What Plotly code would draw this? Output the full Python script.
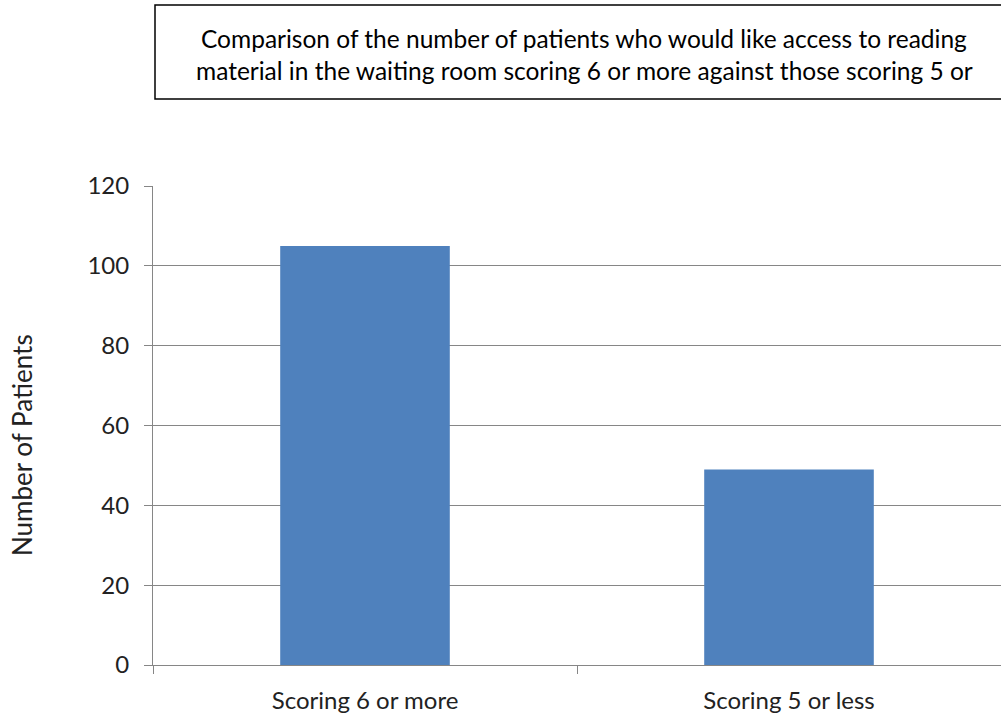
import plotly.graph_objects as go

# Patient survey counts by reading-material score group
categories = ["Scoring 6 or more", "Scoring 5 or less"]
patients = [105, 49]
y_ticks = [0, 20, 40, 60, 80, 100, 120]
y_title = "Number of Patients"

title_lines = [
    "Comparison of the number of patients who would like access to reading",
    "material in the waiting room scoring 6 or more against those scoring 5 or",
]

W, H = 1001, 714
L, R, T, B = 153, 0, 186, 49
plot_w = W - L - R
plot_h = H - T - B

def px_x(x):
    return (x - L) / plot_w

def px_y(y):
    return (H - B - y) / plot_h

font_family = "Lato, Calibri, Carlito, sans-serif"
axis_grey = "#868686"

fig = go.Figure(
    go.Bar(
        x=categories,
        y=patients,
        marker=dict(color="#4F81BD", line=dict(width=0)),
        width=0.4,
        hoverinfo="x+y",
    )
)

fig.update_layout(
    width=W,
    height=H,
    margin=dict(l=L, r=R, t=T, b=B, pad=0),
    paper_bgcolor="white",
    plot_bgcolor="white",
    showlegend=False,
    font=dict(family=font_family, size=24, color="#000000"),
    xaxis=dict(
        range=[-0.5, 1.5],
        showline=True,
        linecolor=axis_grey,
        linewidth=1,
        ticks="outside",
        tickson="boundaries",
        ticklen=8,
        tickcolor=axis_grey,
        showgrid=False,
        tickfont=dict(size=24, color="#222222"),
        ticklabelstandoff=14,
    ),
    yaxis=dict(
        range=[0, 120],
        tickvals=y_ticks,
        showline=True,
        linecolor=axis_grey,
        linewidth=1,
        ticks="outside",
        ticklen=8,
        tickcolor=axis_grey,
        showgrid=True,
        gridcolor=axis_grey,
        gridwidth=1,
        zeroline=False,
        tickfont=dict(size=24, color="#222222"),
        ticklabelstandoff=10,
    ),
)

# Vertical axis caption, sitting slightly below the plot's mid-height
fig.add_annotation(
    xref="paper", yref="paper",
    x=px_x(22), y=px_y(445),
    text=y_title,
    textangle=-90,
    showarrow=False,
    xanchor="center", yanchor="middle",
    font=dict(size=26, color="#222222", family=font_family),
)

# Boxed chart heading above the plot
fig.add_shape(
    type="rect",
    xref="paper", yref="paper",
    x0=px_x(155), x1=px_x(1010),
    y0=px_y(99), y1=px_y(5),
    line=dict(color="#000000", width=1.5),
    fillcolor="white",
    layer="above",
)
for i, line in enumerate(title_lines):
    fig.add_annotation(
        xref="paper", yref="paper",
        x=px_x(584), y=px_y(38 + 33 * i),
        text=line,
        showarrow=False,
        xanchor="center", yanchor="middle",
        font=dict(size=24.5, color="#000000", family=font_family),
    )

fig.write_html("out.html")
